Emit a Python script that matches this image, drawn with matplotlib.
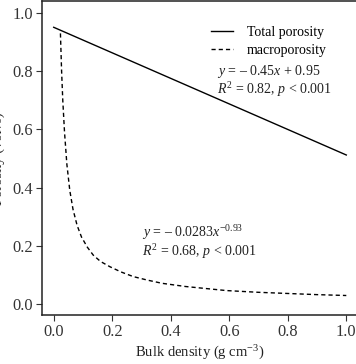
import matplotlib
matplotlib.use("Agg")
import matplotlib.pyplot as plt

plt.rcParams['font.family'] = ['Liberation Serif', 'DejaVu Serif']
plt.rcParams['mathtext.fontset'] = 'custom'
plt.rcParams['mathtext.rm'] = 'Liberation Serif'
plt.rcParams['mathtext.it'] = 'Liberation Serif:italic'

# Total porosity (linear fit)
total_x = [0.0, 1.0]
total_y = [0.951, 0.512]

# Macroporosity (power fit)
macro_x = [0.023, 0.027, 0.031, 0.037, 0.045, 0.055, 0.066, 0.08, 0.095, 0.115,
           0.135, 0.16, 0.192, 0.23, 0.272, 0.32, 0.37, 0.45, 0.59, 0.7, 0.8, 0.9, 1.0]
macro_y = [0.93, 0.80, 0.70, 0.59, 0.48, 0.39, 0.325, 0.27, 0.23, 0.195,
           0.168, 0.146, 0.128, 0.11, 0.094, 0.082, 0.071, 0.060, 0.046, 0.040, 0.036, 0.032, 0.029]

xticks = [0.0, 0.2, 0.4, 0.6, 0.8, 1.0]
yticks = [0.0, 0.2, 0.4, 0.6, 0.8, 1.0]

fig = plt.figure(figsize=(3.56, 3.64), dpi=100)
ax = fig.add_axes([42/356, 49/364, 316/356, 313.6/364])

ax.plot(total_x, total_y, color='black', lw=1.0, label='Total porosity')
ax.plot(macro_x, macro_y, color='black', lw=1.0, dashes=(3, 2.2), label='macroporosity')

ax.set_xlim(-0.04, 1.04)
ax.set_ylim(-0.038, 1.04)
ax.set_xticks(xticks)
ax.set_yticks(yticks)
ax.set_xticklabels([f"{v:.1f}" for v in xticks])
ax.set_yticklabels([f"{v:.1f}" for v in yticks])
ax.tick_params(direction='out', length=4, width=0.8, labelsize=11.8, colors='#333333',
               labelcolor='#333333', pad=2.5)
for s in ax.spines.values():
    s.set_linewidth(1.1)
    s.set_color('#222222')

ax.set_xlabel('Bulk density (g cm$^{-3}$)', fontsize=10.5, color='#222222', labelpad=3)
ax.set_ylabel('Porosity (vol%)', fontsize=10.5, color='#222222')
ax.yaxis.set_label_coords(-0.118, 0.5)

leg = ax.legend(loc='upper left', bbox_to_anchor=(0.517, 0.94), frameon=False,
                fontsize=10, handlelength=1.6, handletextpad=1.0, labelspacing=0.35,
                borderaxespad=0)

fig.text(217/356, 1 - 72/364, r'$\it{y}$ = – 0.45$\it{x}$ + 0.95', fontsize=10,
         va='center', ha='left', color='#222222')
fig.text(217/356, 1 - 90/364, r'$\it{R}^2$ = 0.82, $\it{p}$ < 0.001', fontsize=10,
         va='center', ha='left', color='#222222')
fig.text(142/356, 1 - 233/364, r'$\it{y}$ = – 0.0283$\it{x}^{-0.93}$', fontsize=10,
         va='center', ha='left', color='#222222')
fig.text(142/356, 1 - 252/364, r'$\it{R}^2$ = 0.68, $\it{p}$ < 0.001', fontsize=10,
         va='center', ha='left', color='#222222')

fig.savefig('out.png', dpi=100)
